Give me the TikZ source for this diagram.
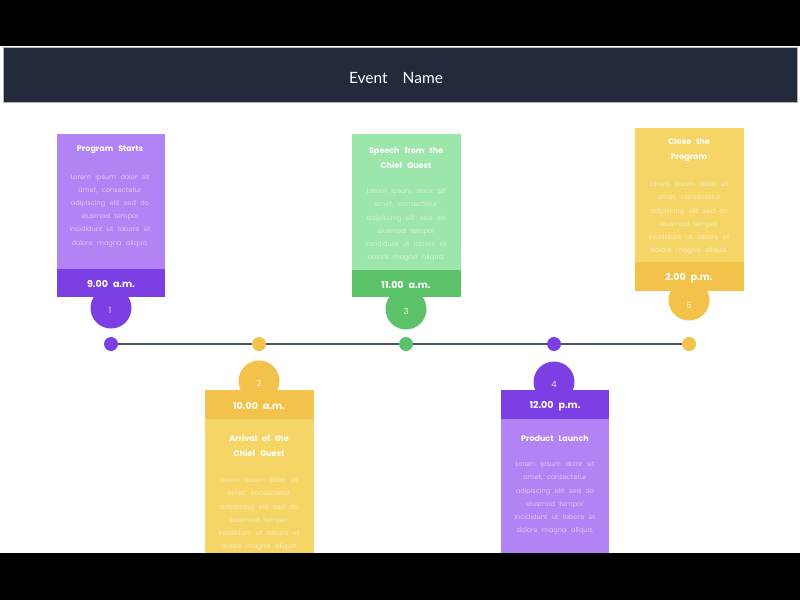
\documentclass[tikz,border=0pt]{standalone}
\usepackage{fontspec}
\setmainfont{Poppins}
\newfontfamily\headfont{Lato}
\usetikzlibrary{backgrounds}
\definecolor{navy}{HTML}{222A3B}
\definecolor{plight}{HTML}{B283F4}
\definecolor{pdark}{HTML}{7B3FE4}
\definecolor{glight}{HTML}{9DE6AB}
\definecolor{gdark}{HTML}{5DC36A}
\definecolor{ylight}{HTML}{F5D566}
\definecolor{ydark}{HTML}{F2C24B}
\definecolor{linegray}{HTML}{4A5568}
\newcommand\wideA{\spaceskip 5pt\relax}
\newcommand\wideB{\spaceskip 4.5pt\relax}
\tikzset{
  cardbox/.style={draw=none, minimum width=109pt, inner sep=0pt},
  numcirc/.style={circle, draw=none, minimum size=41pt, inner sep=0pt},
  numtext/.style={text=white, text opacity=0.85, font=\fontsize{8.5}{10}\selectfont},
  timetext/.style={text=white, font=\bfseries\fontsize{9.5}{11}\selectfont\wideA},
  titletext/.style={text=white, align=center, font=\bfseries\fontsize{8}{15}\selectfont\wideA},
  bodytext/.style={text=white, text opacity=0.55, align=center, font=\fontsize{6.6}{13.2}\selectfont\wideB},
  tdot/.style={circle, draw=none, minimum size=14pt, inner sep=0pt},
}
\begin{document}
\begin{tikzpicture}[x=1pt,y=-1pt]
\useasboundingbox (0,0) rectangle (800,600);
\begin{scope}[on background layer]
\fill[black] (0,0) rectangle (800,600);
\fill[white] (0,46) rectangle (800,553);
\end{scope}
% header
\node (header) [draw=gray!60, line width=0.6pt, fill=navy, minimum width=794pt, minimum height=55pt, inner sep=0pt] at (400,74.5) {};
\node (headtitle) [text=white, font=\headfont\fontsize{15.5}{17}\selectfont] at (396,78) {Event\hspace{15pt}Name};

% card 1
\node (n1) [numcirc, fill=pdark] at (111,308) {};
\node (c1) [cardbox, fill=plight, minimum width=108pt, minimum height=135pt] at (111,201.5) {};
\node (b1) [cardbox, fill=pdark, minimum width=108pt, minimum height=28pt] at (111,283) {};
\node (t1) [titletext] at (110,150) {Program Starts};
\node (x1) [bodytext] at (110,210.5) {Lorem ipsum dolor sit\\amet, consectetur\\adipiscing elit sed do\\eiusmod tempor\\incididunt ut labore et\\dolore magna aliqua.};
\node (m1) [timetext] at (111,284) {9.00 a.m.};
\node (k1) [numtext] at (110,310) {1};

% card 3
\node (n3) [numcirc, fill=gdark] at (406,309) {};
\node (c3) [cardbox, fill=glight, minimum height=136pt] at (406.5,202) {};
\node (b3) [cardbox, fill=gdark, minimum height=27pt] at (406.5,283.5) {};
\node (t3) [titletext] at (406,157.5) {Speech from the\\Chief Guest};
\node (x3) [bodytext] at (406,225) {Lorem ipsum dolor sit\\amet, consectetur\\adipiscing elit sed do\\eiusmod tempor\\incididunt ut labore et\\dolore magna aliqua.};
\node (m3) [timetext] at (406,284.5) {11.00 a.m.};
\node (k3) [numtext] at (406,311) {3};

% card 5
\node (n5) [numcirc, fill=ydark] at (689,300) {};
\node (c5) [cardbox, fill=ylight, minimum height=134pt] at (689.5,195) {};
\node (b5) [cardbox, fill=ydark, minimum height=29pt] at (689.5,276.5) {};
\node (t5) [titletext] at (689,150.5) {Close the\\Program};
\node (x5) [bodytext] at (689,218) {Lorem ipsum dolor sit\\amet, consectetur\\adipiscing elit sed do\\eiusmod tempor\\incididunt ut labore et\\dolore magna aliqua.};
\node (m5) [timetext] at (689,278) {2.00 p.m.};
\node (k5) [numtext] at (689,305) {5};

% card 2
\node (n2) [numcirc, fill=ydark] at (259,381) {};
\node (b2) [cardbox, fill=ydark, minimum height=29pt] at (259.5,404.5) {};
\node (c2) [cardbox, fill=ylight, minimum height=141pt] at (259.5,489.5) {};
\node (k2) [numtext] at (259,383) {2};
\node (m2) [timetext] at (259,406) {10.00 a.m.};
\node (t2) [titletext] at (259,445.5) {Arrival of the\\Chief Guest};
\node (x2) [bodytext] at (259,514) {Lorem ipsum dolor sit\\amet, consectetur\\adipiscing elit sed do\\eiusmod tempor\\incididunt ut labore et\\dolore magna aliqua.};

% card 4
\node (n4) [numcirc, fill=pdark] at (554,382) {};
\node (b4) [cardbox, fill=pdark, minimum width=108pt, minimum height=29pt] at (555,404.5) {};
\node (c4) [cardbox, fill=plight, minimum width=108pt, minimum height=141pt] at (555,489.5) {};
\node (k4) [numtext] at (554,384) {4};
\node (m4) [timetext] at (555,406) {12.00 p.m.};
\node (t4) [titletext] at (555,439) {Product Launch};
\node (x4) [bodytext] at (555,498) {Lorem ipsum dolor sit\\amet, consectetur\\adipiscing elit sed do\\eiusmod tempor\\incididunt ut labore et\\dolore magna aliqua.};

% timeline
\node (d1) [tdot, fill=pdark] at (111,344) {};
\node (d2) [tdot, fill=ydark] at (259,344) {};
\node (d3) [tdot, fill=gdark] at (406,344) {};
\node (d4) [tdot, fill=pdark] at (554,344) {};
\node (d5) [tdot, fill=ydark] at (689,344) {};
\begin{scope}[on background layer]
\draw[linegray, line width=1.8pt] (d1.center) -- (d5.center);
\end{scope}

% bottom bar
\fill[black] (0,553) rectangle (800,600);
\end{tikzpicture}
\end{document}
